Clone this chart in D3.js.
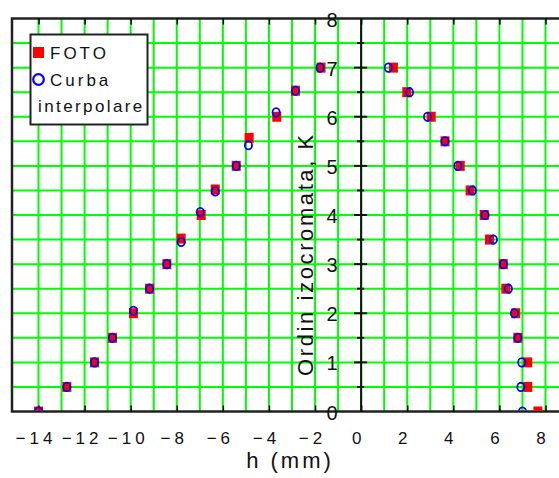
<!DOCTYPE html>
<html>
<head>
<meta charset="utf-8">
<script src="https://cdn.jsdelivr.net/npm/d3@7"></script>
<style>
  body { margin: 0; background: #fff; }
  svg { display: block; font-family: "Liberation Sans", Arial, sans-serif; }
</style>
</head>
<body>
<div id="chart"></div>
<script>
// K levels (ordin izocromata) and h positions
const fotoH  = [-14.0, -12.77, -11.57, -10.79, -9.88, -9.18, -8.43, -7.81, -6.94, -6.33, -5.42, -4.86, -3.66, -2.85, -1.74,
                1.40, 1.98, 3.04, 3.64, 4.30, 4.73, 5.34, 5.57, 6.17, 6.28, 6.71, 6.80, 7.23, 7.23, 7.67];
const fotoK  = [0, 0.5, 1, 1.5, 2.0, 2.5, 3, 3.52, 4.0, 4.52, 5, 5.57, 6.0, 6.53, 7,
                7, 6.5, 6, 5.5, 5, 4.5, 4, 3.5, 3, 2.5, 2, 1.5, 1, 0.5, 0];
const curbaH = [-14.0, -12.77, -11.57, -10.79, -9.88, -9.18, -8.43, -7.81, -6.98, -6.33, -5.42, -4.89, -3.69, -2.85, -1.78,
                1.18, 2.10, 2.88, 3.64, 4.20, 4.83, 5.38, 5.74, 6.17, 6.39, 6.65, 6.80, 6.97, 6.93, 7.0];
const curbaK = [0, 0.5, 1, 1.5, 2.05, 2.5, 3, 3.45, 4.06, 4.48, 5, 5.42, 6.09, 6.53, 7,
                7, 6.5, 6, 5.5, 5, 4.5, 4, 3.5, 3, 2.5, 2, 1.5, 1, 0.5, 0];

const xTicks = [-14, -12, -10, -8, -6, -4, -2, 0, 2, 4, 6, 8];
const xGrid = d3.range(-15, 10, 1);
const yTicks = [0, 1, 2, 3, 4, 5, 6, 7, 8];
const yHalf = [0.5, 1.5, 2.5, 3.5, 4.5, 5.5, 6.5, 7.5];
const yGrid = d3.range(0.5, 8, 0.5);

const width = 559, height = 478;
const plotLeft = 12, plotTop = 18.5, plotBottom = 411.5;

const x = d3.scaleLinear().domain([-15.15, 9]).range([plotLeft, plotLeft + 24.15 * 23.045]);
const y = d3.scaleLinear().domain([0, 8]).range([plotBottom, plotTop]);

const svg = d3.select("#chart").append("svg")
  .attr("width", width).attr("height", height);

svg.append("clipPath").attr("id", "plot")
  .append("rect").attr("x", plotLeft).attr("y", plotTop)
  .attr("width", width - plotLeft).attr("height", plotBottom - plotTop - 1);

// grid
const grid = svg.append("g").attr("stroke", "#00ff00").attr("stroke-width", 2);
grid.selectAll("line.v").data(xGrid.filter(d => d > -15)).join("line")
  .attr("x1", d => x(d)).attr("x2", d => x(d)).attr("y1", plotTop).attr("y2", plotBottom);
grid.selectAll("line.h").data(yGrid).join("line")
  .attr("x1", plotLeft).attr("x2", width).attr("y1", d => y(d)).attr("y2", d => y(d));

// frame
svg.append("path")
  .attr("d", `M${width},${plotTop}H${plotLeft}V${plotBottom}H${width}`)
  .attr("fill", "none").attr("stroke", "#222").attr("stroke-width", 2.5);

// bottom axis with labels
const xAxis = svg.append("g").attr("transform", `translate(0,${plotBottom})`)
  .call(d3.axisBottom(x).tickValues(xTicks).tickSize(-6).tickPadding(20).tickFormat(d3.format("d")));
xAxis.select(".domain").remove();
xAxis.selectAll(".tick line").attr("stroke", "#000").attr("stroke-width", 1.5);
xAxis.selectAll(".tick text")
  .attr("font-size", 17).attr("letter-spacing", 4).attr("dx", -3)
  .attr("fill", "#111").attr("font-family", "Liberation Sans, Arial, sans-serif");

// top ticks
const xTop = svg.append("g").attr("transform", `translate(0,${plotTop})`)
  .call(d3.axisTop(x).tickValues(xTicks).tickSize(-6).tickFormat(""));
xTop.select(".domain").remove();
xTop.selectAll(".tick line").attr("stroke", "#000").attr("stroke-width", 1.5);

// vertical axis at h = 0
const yAxisG = svg.append("g");
yAxisG.append("line")
  .attr("x1", x(0)).attr("x2", x(0)).attr("y1", plotTop).attr("y2", plotBottom)
  .attr("stroke", "#111").attr("stroke-width", 2);
yAxisG.selectAll("line.maj").data(yTicks.filter(d => d > 0 && d < 8)).join("line")
  .attr("x1", x(0) - 7).attr("x2", x(0) + 6).attr("y1", d => y(d)).attr("y2", d => y(d))
  .attr("stroke", "#111").attr("stroke-width", 2);
yAxisG.selectAll("line.min").data(yHalf).join("line")
  .attr("x1", x(0) - 4).attr("x2", x(0) + 3).attr("y1", d => y(d)).attr("y2", d => y(d))
  .attr("stroke", "#111").attr("stroke-width", 2);
yAxisG.selectAll("text").data(yTicks).join("text")
  .attr("x", x(0) - 29).attr("y", d => y(d) + 1)
  .attr("text-anchor", "middle").attr("dominant-baseline", "central")
  .attr("font-size", 20).attr("fill", "#111")
  .text(d => d);

// axis titles
svg.append("text")
  .attr("x", 290).attr("y", 468).attr("text-anchor", "middle")
  .attr("font-size", 22).attr("letter-spacing", 3).attr("fill", "#111")
  .text("h (mm)");
svg.append("text")
  .attr("transform", `translate(313,254) rotate(-90)`)
  .attr("text-anchor", "middle")
  .attr("font-size", 22).attr("letter-spacing", 2.6).attr("fill", "#111")
  .text("Ordin izocromata, K");

// markers
const marks = svg.append("g").attr("clip-path", "url(#plot)");
marks.selectAll("rect").data(d3.range(fotoH.length)).join("rect")
  .attr("x", i => x(fotoH[i]) - 4.5).attr("y", i => y(fotoK[i]) - 5)
  .attr("width", 9).attr("height", 10)
  .attr("fill", "#ff0000");
marks.selectAll("ellipse").data(d3.range(curbaH.length)).join("ellipse")
  .attr("cx", i => x(curbaH[i])).attr("cy", i => y(curbaK[i]))
  .attr("rx", 3.6).attr("ry", 4.2)
  .attr("fill", "none").attr("stroke", "#0000ff").attr("stroke-width", 1.8);

// legend
const legend = svg.append("g");
legend.append("rect")
  .attr("x", 30.5).attr("y", 34.5).attr("width", 117).attr("height", 90)
  .attr("fill", "#fff").attr("stroke", "#222").attr("stroke-width", 2);
legend.append("rect")
  .attr("x", 33).attr("y", 47).attr("width", 11).attr("height", 11).attr("fill", "#ff0000");
legend.append("circle")
  .attr("cx", 38.5).attr("cy", 79.5).attr("r", 5.3)
  .attr("fill", "none").attr("stroke", "#0000ff").attr("stroke-width", 2.2);
legend.append("text").attr("x", 50).attr("y", 59)
  .attr("font-size", 17).attr("letter-spacing", 3).attr("fill", "#111").text("FOTO");
legend.append("text").attr("x", 50).attr("y", 86)
  .attr("font-size", 17).attr("letter-spacing", 3).attr("fill", "#111").text("Curba");
legend.append("text").attr("x", 38).attr("y", 112)
  .attr("font-size", 17).attr("letter-spacing", 2.4).attr("fill", "#111").text("interpolare");
</script>
</body>
</html>
